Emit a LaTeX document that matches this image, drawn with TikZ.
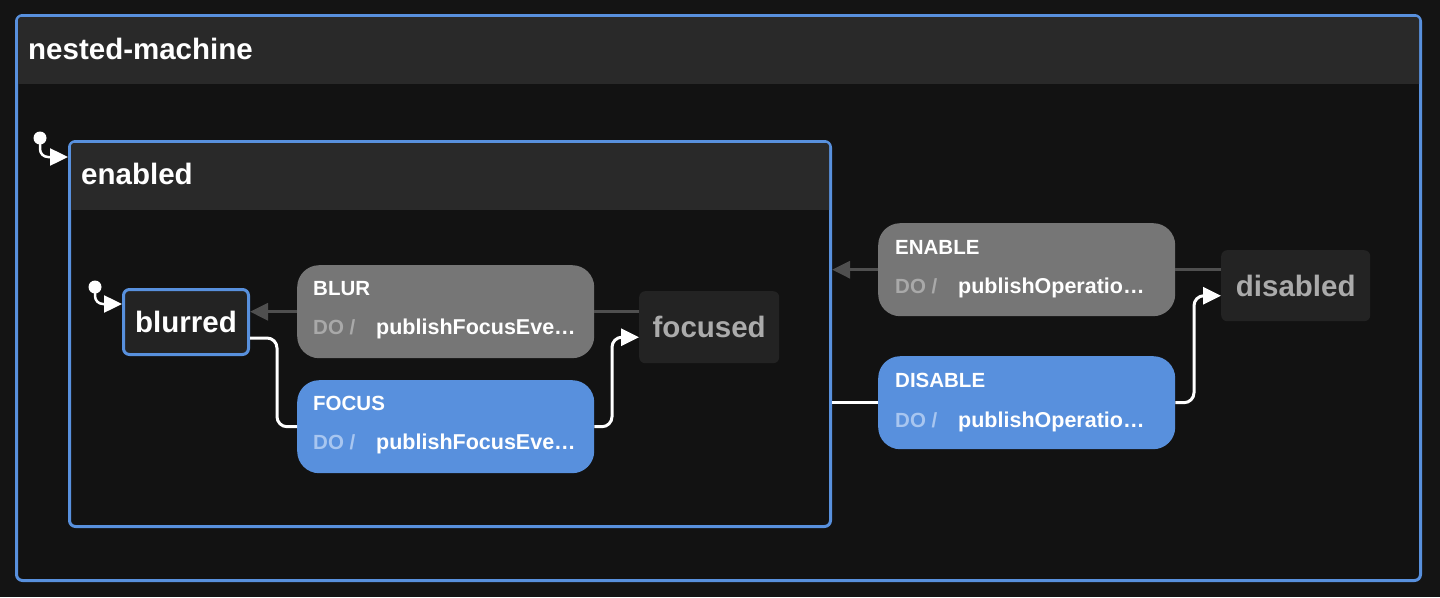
\documentclass[tikz,border=0pt]{standalone}
\usepackage{fontspec}
\setmainfont{Liberation Sans}
\usetikzlibrary{arrows.meta}

\definecolor{pagebg}{HTML}{141414}
\definecolor{bodybg}{HTML}{121212}
\definecolor{hdr}{HTML}{292929}
\definecolor{xblue}{HTML}{5890DD}
\definecolor{evgray}{HTML}{767676}
\definecolor{linegray}{HTML}{4F4F4F}
\definecolor{stfill}{HTML}{232323}
\definecolor{stgray}{HTML}{ABABAB}
\definecolor{dogray}{HTML}{A9A9A9}
\definecolor{doblue}{HTML}{A8C6F0}

\tikzset{
  cluster/.style={draw=xblue, fill=bodybg, line width=3pt, rounded corners=6pt, anchor=north west, inner sep=0pt},
  title/.style={anchor=base west, inner sep=0pt, text=white, font=\bfseries\fontsize{29.5pt}{34pt}\selectfont},
  state/.style={fill=stfill, rounded corners=6pt, anchor=north west, inner sep=0pt, text=stgray, font=\bfseries\fontsize{29.5pt}{34pt}\selectfont},
  current/.style={state, draw=xblue, line width=3pt, text=white},
  event/.style={fill=evgray, rounded corners=22pt, anchor=north west, inner sep=0pt, minimum width=297pt, minimum height=93pt},
  evname/.style={anchor=base west, inner sep=0pt, text=white, font=\bfseries\fontsize{20.5pt}{24pt}\selectfont},
  doword/.style={evname, text=dogray},
  action/.style={evname, font=\bfseries\fontsize{21.5pt}{25pt}\selectfont},
  flow/.style={draw=white, line width=3pt, rounded corners=10pt},
  back/.style={draw=linegray, line width=3pt},
  endtip/.style={-{Triangle[length=18pt,width=17pt]}},
}

\begin{document}
\begin{tikzpicture}[x=1pt, y=-1pt]
\useasboundingbox (0,0) rectangle (1440,597);
\fill[pagebg] (0,0) rectangle (1440,597);

\node[cluster, minimum width=1404pt, minimum height=565pt] (machine) at (15,14) {};
\begin{scope}
\clip[rounded corners=3pt] ([shift={(3pt,-3pt)}]machine.north west) rectangle ([shift={(-3pt,3pt)}]machine.south east);
\fill[hdr] (machine.north west) rectangle ([yshift=-70pt]machine.north east);
\end{scope}
\node[title] (machineName) at (28,59) {nested-machine};

\node[cluster, minimum width=761pt, minimum height=385pt] (enabled) at (68,140) {};
\begin{scope}
\clip[rounded corners=3pt] ([shift={(3pt,-3pt)}]enabled.north west) rectangle ([shift={(-3pt,3pt)}]enabled.south east);
\fill[hdr] (enabled.north west) rectangle ([yshift=-70pt]enabled.north east);
\end{scope}
\node[title] (enabledName) at (81,184) {enabled};

\node[current, minimum width=125pt, minimum height=65pt] (blurred) at (122,288) {blurred};
\node[state, minimum width=140pt, minimum height=72pt] (focused) at (639,291) {focused};
\node[state, minimum width=149pt, minimum height=71pt] (disabled) at (1221,250) {disabled};

\node[event] (blur) at (297,265) {};
\node[evname] (blurName) at ([shift={(16pt,-30pt)}]blur.north west) {BLUR};
\node[doword] (blurDo) at ([shift={(16pt,-69pt)}]blur.north west) {DO /};
\node[action] (blurAct) at ([shift={(79pt,-69pt)}]blur.north west) {publishFocusEve…};

\node[event, fill=xblue] (focus) at (297,380) {};
\node[evname] (focusName) at ([shift={(16pt,-30pt)}]focus.north west) {FOCUS};
\node[doword, text=doblue] (focusDo) at ([shift={(16pt,-69pt)}]focus.north west) {DO /};
\node[action] (focusAct) at ([shift={(79pt,-69pt)}]focus.north west) {publishFocusEve…};

\node[event] (enable) at (878,223) {};
\node[evname] (enableName) at ([shift={(17pt,-31pt)}]enable.north west) {ENABLE};
\node[doword] (enableDo) at ([shift={(17pt,-70pt)}]enable.north west) {DO /};
\node[action] (enableAct) at ([shift={(80pt,-70pt)}]enable.north west) {publishOperatio…};

\node[event, fill=xblue] (disable) at (878,356) {};
\node[evname] (disableName) at ([shift={(17pt,-31pt)}]disable.north west) {DISABLE};
\node[doword, text=doblue] (disableDo) at ([shift={(17pt,-71pt)}]disable.north west) {DO /};
\node[action] (disableAct) at ([shift={(80pt,-71pt)}]disable.north west) {publishOperatio…};

\coordinate (machineInit) at (40,138);
\fill[white] (machineInit) circle (6.5pt);
\draw[white, line width=2.5pt, rounded corners=8pt, endtip] (machineInit) |- ([yshift=-17pt]enabled.north west);
\coordinate (enabledInit) at (95,287);
\fill[white] (enabledInit) circle (6.5pt);
\draw[white, line width=2.5pt, rounded corners=8pt, endtip] (enabledInit) |- ([yshift=-16pt]blurred.north west);

\draw[back] (focused.west |- blur.east) -- (blur.east);
\draw[back, endtip] (blur.west) -- (blur.west -| blurred.east);
\draw[flow] ([yshift=-16pt]blurred.east) -| ([xshift=-20pt]focus.west) -- (focus.west);
\draw[flow, endtip] (focus.east) -| ([shift={(-27pt,-10pt)}]focused.west) -- ([yshift=-10pt]focused.west);

\draw[back] (disabled.west |- enable.east) -- (enable.east);
\draw[back, endtip] (enable.west) -- (enable.west -| enabled.east);
\draw[flow] (disable.west -| enabled.east) -- (disable.west);
\draw[flow, endtip] (disable.east) -| ([shift={(-27pt,-10pt)}]disabled.west) -- ([yshift=-10pt]disabled.west);
\end{tikzpicture}
\end{document}
